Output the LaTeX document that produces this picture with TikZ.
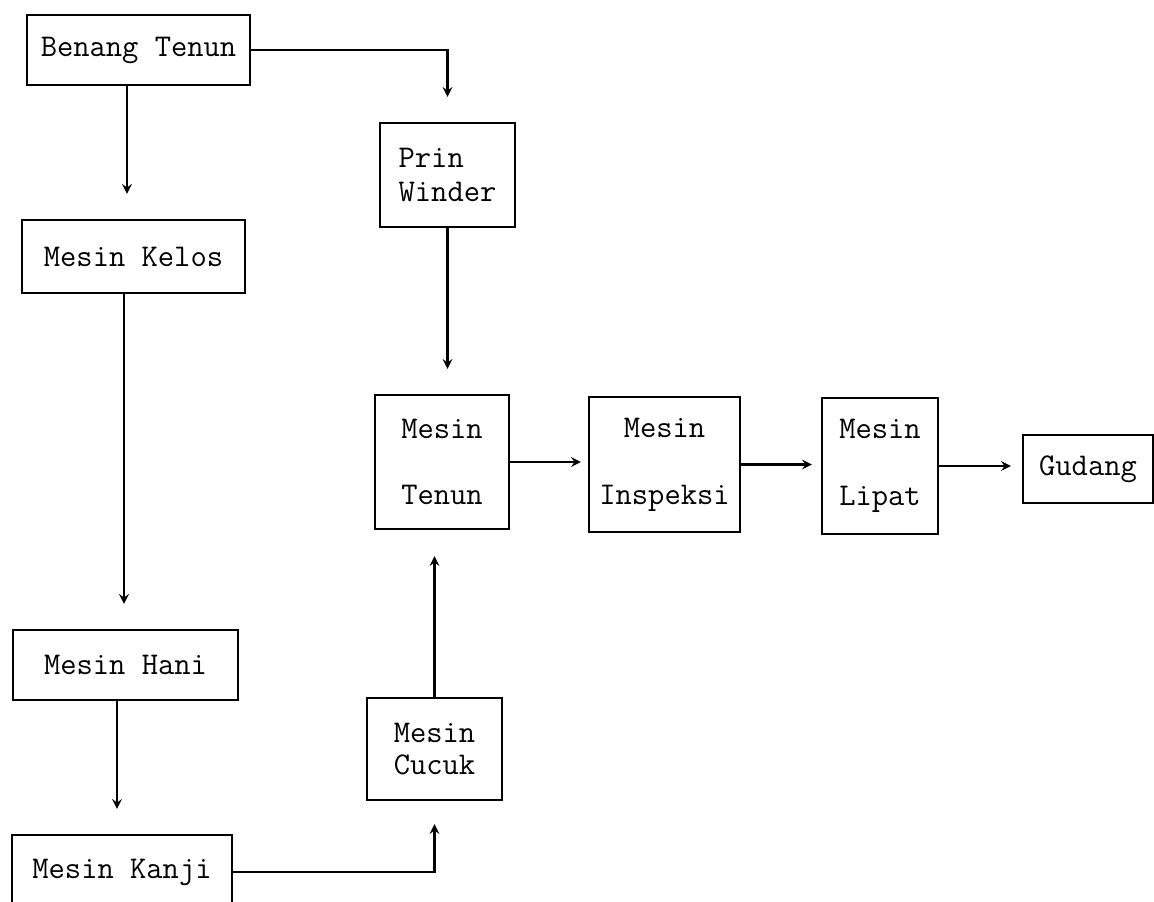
\documentclass[tikz,border=0pt]{standalone}
\usepackage{fontspec}
\usetikzlibrary{positioning}

\begin{document}
\begin{tikzpicture}[
    block/.style={rectangle, draw, line width=1.4pt,
                  text centered, align=center, inner sep=2pt,
                  font=\ttfamily\fontsize{18}{22}\selectfont},
    arrow/.style={->, line width=1.4pt, >=stealth}
]
    \useasboundingbox (0,0) rectangle (23.08,-18.04);

    \node[block, minimum width=4.46cm, minimum height=1.4cm]
        (benang) at (2.77, -1.0) {Benang Tenun};
    \node[block, minimum width=4.46cm, minimum height=1.46cm]
        (kelos) at (2.67, -5.13) {Mesin Kelos};
    \node[block, minimum width=4.5cm, minimum height=1.4cm]
        (hani) at (2.51, -13.3) {Mesin Hani};
    \node[block, minimum width=4.4cm, minimum height=1.48cm]
        (kanji) at (2.44, -17.44) {Mesin Kanji};

    \node[block, align=left, minimum width=2.7cm, minimum height=2.08cm]
        (winder) at (8.95, -3.5) {Prin\\[-3pt]Winder};
    \node[block, minimum width=2.68cm, minimum height=2.68cm]
        (tenun) at (8.84, -9.24) {Mesin\\[16pt]Tenun};
    \node[block, minimum width=2.7cm, minimum height=2.04cm]
        (cucuk) at (8.69, -14.98) {Mesin\\[-4pt]Cucuk};

    \node[block, minimum width=3.02cm, minimum height=2.7cm]
        (inspeksi) at (13.29, -9.29) {Mesin\\[16pt]Inspeksi};
    \node[block, minimum width=2.32cm, minimum height=2.72cm]
        (lipat) at (17.6, -9.32) {Mesin\\[16pt]Lipat};
    \node[block, minimum width=2.6cm, minimum height=1.36cm]
        (gudang) at (21.76, -9.38) {Gudang};

    % Benang Tenun ke Prin Winder
    \draw[arrow, shorten >=0.5cm] (benang.east) -| (winder.north);

    % jalur kiri: Benang Tenun - Kelos - Hani - Kanji
    \draw[arrow, shorten >=0.5cm] ([xshift=-2.3mm]benang.south) --
        ([xshift=-2.3mm]benang.south |- kelos.north);
    \draw[arrow, shorten >=0.5cm] ([xshift=-1.9mm]kelos.south) --
        ([xshift=-1.9mm]kelos.south |- hani.north);
    \draw[arrow, shorten >=0.5cm] ([xshift=-1.7mm]hani.south) --
        ([xshift=-1.7mm]hani.south |- kanji.north);

    % Kanji ke Cucuk, Cucuk ke Tenun
    \draw[arrow, shorten >=0.46cm] (kanji.east) -| (cucuk.south);
    \draw[arrow, shorten >=0.52cm] (cucuk.north) -- (cucuk.north |- tenun.south);

    % Prin Winder ke Tenun
    \draw[arrow, shorten >=0.5cm] (winder.south) -- (winder.south |- tenun.north);

    % Tenun - Inspeksi - Lipat - Gudang
    \draw[arrow, shorten >=0.14cm] (tenun.east) -- (inspeksi.west |- tenun.east);
    \draw[arrow, shorten >=0.18cm] (inspeksi.east) -- (lipat.west |- inspeksi.east);
    \draw[arrow, shorten >=0.22cm] (lipat.east) -- (gudang.west |- lipat.east);

\end{tikzpicture}
\end{document}
